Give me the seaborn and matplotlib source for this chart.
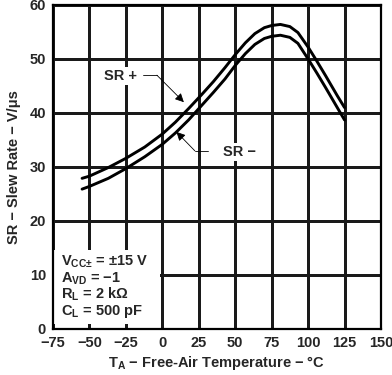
import pandas as pd
import matplotlib
matplotlib.use("Agg")
import matplotlib.pyplot as plt
from matplotlib.patches import Rectangle
import seaborn as sns

# curves (temperature in degC, slew rate in V/us)
temp = [-55, -50, -37, -25, -12, 0, 9, 18, 27, 35, 43, 50, 57, 63.5, 70, 75, 81, 87.5, 93, 100, 106, 112, 120, 125]
sr_plus = [27.9, 28.3, 29.9, 31.6, 33.7, 36.1, 38.3, 40.8, 43.4, 45.8, 48.4, 50.8, 53.0, 54.7, 55.8, 56.2, 56.4, 56.0,
           54.9, 52.2, 49.6, 46.9, 43.2, 41.0]
sr_minus = [25.9, 26.4, 27.9, 29.7, 31.9, 34.2, 36.3, 38.7, 41.4, 43.8, 46.3, 48.8, 51.0, 52.7, 53.8, 54.2, 54.4, 54.0,
            52.9, 50.0, 47.4, 44.7, 41.0, 38.7]

x_ticks = [-75, -50, -25, 0, 25, 50, 75, 100, 125, 150]
y_ticks = [0, 10, 20, 30, 40, 50, 60]

conditions = ["V$_{CC±}$ = ±15 V", "A$_{VD}$ = −1", "R$_{L}$ = 2 kΩ", "C$_{L}$ = 500 pF"]

df = pd.DataFrame({
    "T": temp + temp,
    "SR": sr_plus + sr_minus,
    "curve": ["SR +"] * len(temp) + ["SR -"] * len(temp),
})

sns.set_style("white")
plt.rcParams["font.family"] = ["Liberation Sans", "DejaVu Sans"]
plt.rcParams["font.weight"] = "bold"
plt.rcParams["mathtext.fontset"] = "custom"
plt.rcParams["mathtext.rm"] = "Liberation Sans:bold"
plt.rcParams["mathtext.it"] = "Liberation Sans:bold"
plt.rcParams["mathtext.bf"] = "Liberation Sans:bold"
plt.rcParams["mathtext.default"] = "rm"

fig = plt.figure(figsize=(3.92, 3.75), dpi=100)
ax = fig.add_axes([0.135, 0.1227, 0.837, 0.864])

sns.lineplot(data=df, x="T", y="SR", hue="curve", palette=["black", "black"],
             legend=False, lw=2.1, ax=ax, sort=False, zorder=3)

ax.set_xlim(-75, 150)
ax.set_ylim(0, 60)
ax.set_xticks(x_ticks)
ax.set_yticks(y_ticks)
ax.grid(True, color="#1a1a1a", lw=0.75, antialiased=False)
ax.set_axisbelow(True)
for s in ax.spines.values():
    s.set_color("black")
    s.set_linewidth(1.6)
ax.tick_params(direction="in", length=3.6, width=0.75, labelsize=10.5, pad=5)
for lab in ax.get_xticklabels() + ax.get_yticklabels():
    lab.set_fontweight("bold")

ax.set_xlabel("T$_{A}$ − Free-Air Temperature − °C", fontsize=10.5, fontweight="bold", labelpad=3)
ax.set_ylabel("SR − Slew Rate − V/μs", fontsize=10.5, fontweight="bold", labelpad=6)

# curve labels with leaders
box = dict(facecolor="white", edgecolor="none", pad=1.5)
ax.text(-28.4, 46.9, "SR +", ha="center", va="center", fontsize=10.5, fontweight="bold", bbox=box)
ax.plot([-13.3, -3.7], [47.0, 47.0], color="black", lw=0.6)
ax.annotate("", xy=(14.8, 42.0), xytext=(-3.7, 47.0),
            arrowprops=dict(arrowstyle="-|>", color="black", lw=0.6, mutation_scale=13,
                            shrinkA=0, shrinkB=0))

ax.text(41.8, 32.8, "SR −", ha="left", va="center", fontsize=10.5, fontweight="bold", bbox=box)
ax.plot([22.3, 31.2], [33.0, 33.0], color="black", lw=0.6)
ax.annotate("", xy=(9.7, 36.5), xytext=(22.3, 33.0),
            arrowprops=dict(arrowstyle="-|>", color="black", lw=0.6, mutation_scale=13,
                            shrinkA=0, shrinkB=0))

# test conditions, on a white patch that hides the grid
ax.add_patch(Rectangle((-75, 1.0), 73.5, 13.6, facecolor="white", edgecolor="none", zorder=1.5))
for i, line in enumerate(conditions):
    ax.text(-69.5, 12.4 - 3.03 * i, line, ha="left", va="center", fontsize=10.5,
            fontweight="bold", zorder=4)

fig.savefig("out.png", dpi=100)
